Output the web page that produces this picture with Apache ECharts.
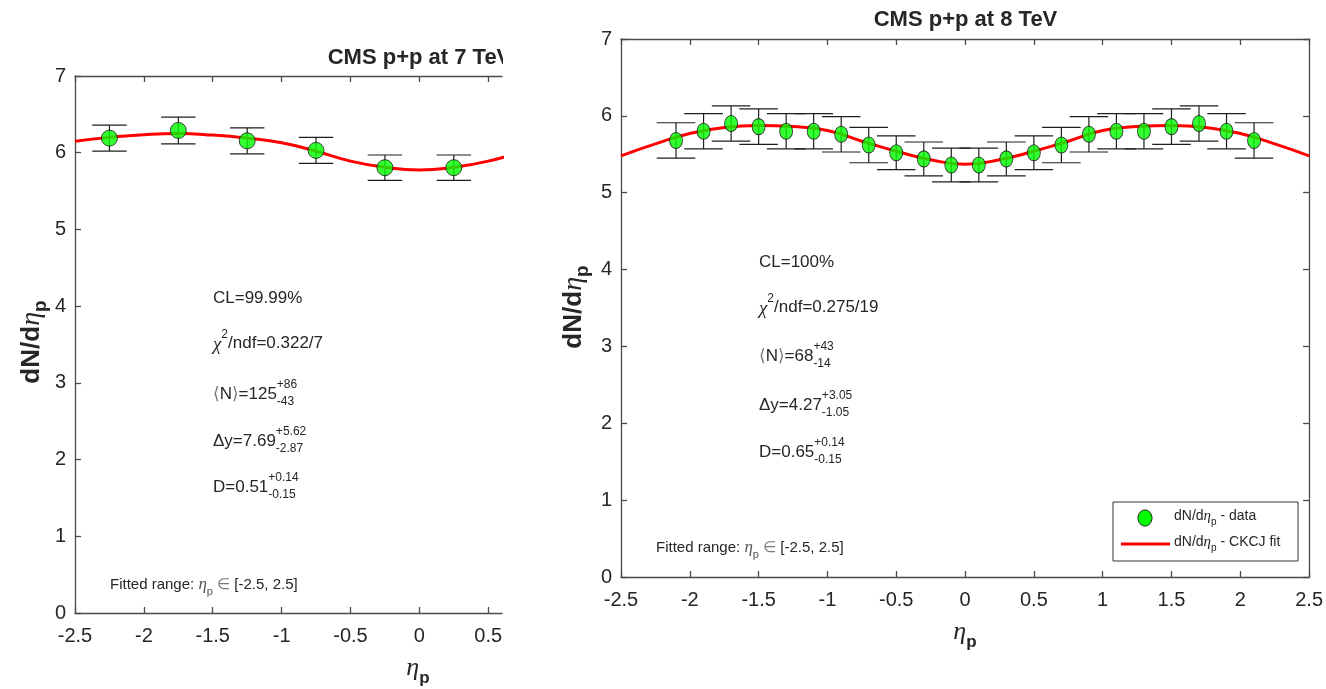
<!DOCTYPE html>
<html>
<head>
<meta charset="utf-8">
<script src="https://cdn.jsdelivr.net/npm/echarts@6/dist/echarts.min.js"></script>
<style>
  html, body { margin: 0; padding: 0; background: #fff; }
  #chart { width: 1326px; height: 689px; }
</style>
</head>
<body>
<div id="chart"></div>
<script>
// 7 TeV panel (left, cut off at eta ~0.6)
const eta7 = [-2.25, -1.75, -1.25, -0.75, -0.25, 0.25];
const dndeta7 = [6.19, 6.29, 6.155, 6.03, 5.805, 5.805];
const err7 = [0.17, 0.175, 0.17, 0.17, 0.165, 0.165];
const fitEta7 = [-2.5, -2.25, -2, -1.75, -1.5, -1.25, -1, -0.75, -0.5, -0.25, 0, 0.25, 0.5, 0.75];
const fitVal7 = [6.15, 6.20, 6.235, 6.25, 6.23, 6.19, 6.13, 6.02, 5.89, 5.81, 5.775, 5.81, 5.89, 6.02];

// 8 TeV panel (right)
const eta8 = [-2.1, -1.9, -1.7, -1.5, -1.3, -1.1, -0.9, -0.7, -0.5, -0.3, -0.1,
              0.1, 0.3, 0.5, 0.7, 0.9, 1.1, 1.3, 1.5, 1.7, 1.9, 2.1];
const dndeta8 = [5.68, 5.80, 5.90, 5.86, 5.80, 5.80, 5.76, 5.62, 5.52, 5.44, 5.36,
                 5.36, 5.44, 5.52, 5.62, 5.76, 5.80, 5.80, 5.86, 5.90, 5.80, 5.68];
const err8 = [0.23, 0.23, 0.23, 0.23, 0.23, 0.23, 0.23, 0.23, 0.22, 0.22, 0.22,
              0.22, 0.22, 0.22, 0.23, 0.23, 0.23, 0.23, 0.23, 0.23, 0.23, 0.23];
const fitEta8 = [-2.5, -2.25, -2, -1.75, -1.5, -1.25, -1, -0.75, -0.5, -0.25, 0,
                 0.25, 0.5, 0.75, 1, 1.25, 1.5, 1.75, 2, 2.25, 2.5];
const fitVal8 = [5.48, 5.635, 5.77, 5.85, 5.875, 5.86, 5.81, 5.67, 5.54, 5.43, 5.37,
                 5.43, 5.54, 5.67, 5.81, 5.86, 5.875, 5.85, 5.77, 5.635, 5.48];

const xTicks7 = [-2.5, -2, -1.5, -1, -0.5, 0, 0.5];
const xTicks8 = [-2.5, -2, -1.5, -1, -0.5, 0, 0.5, 1, 1.5, 2, 2.5];

const SANS = '"Liberation Sans", Arial, "DejaVu Sans", sans-serif';
const SERIF = '"Liberation Serif", "Times New Roman", "DejaVu Serif", serif';
const INK = '#262626';

// --- small tex-like text helper (sub/superscripts) ---
const mctx = document.createElement('canvas').getContext('2d');
const fontOf = p => (p.italic ? 'italic ' : '') + (p.bold ? 'bold ' : '') + p.size + 'px ' + (p.serif ? SERIF : SANS);
const textW = (p, t) => { mctx.font = fontOf(p); return mctx.measureText(t).width; };

function piece(x, y, t, p) {
  return {
    type: 'text', x: x, y: y, z: 100,
    style: { text: t, font: fontOf(p), fill: p.color || INK,
             align: 'left', verticalAlign: 'middle', textAlign: 'left', textVerticalAlign: 'middle' }
  };
}

// pieces: {t, size, bold, italic, serif, dy} or {sup, sub, size, supDy, subDy}
function tex(x, y, pieces, opt) {
  opt = opt || {};
  const kids = [];
  let cx = 0;
  pieces.forEach(p => {
    if (p.sup !== undefined || p.sub !== undefined) {
      const ps = { size: p.size, color: p.color };
      let w = 0;
      if (p.sup) { kids.push(piece(cx, p.supDy, p.sup, ps)); w = Math.max(w, textW(ps, p.sup)); }
      if (p.sub) { kids.push(piece(cx, p.subDy, p.sub, ps)); w = Math.max(w, textW(ps, p.sub)); }
      cx += w;
    } else {
      kids.push(piece(cx, p.dy || 0, p.t, p));
      cx += textW(p, p.t);
    }
  });
  if (opt.center) kids.forEach(k => { k.x -= cx / 2; });
  return { type: 'group', x: x, y: y, rotation: opt.rotation || 0, z: 100, children: kids };
}

const F = 17, S = 12;
function statBlock(x, ys, chi, n, dy, d) {
  return [
    tex(x, ys[0], [{ t: chi.cl, size: F }]),
    tex(x, ys[1], [{ t: 'χ', size: F + 2, italic: true, serif: true, dy: 2 },
                   { sup: '2', size: S, supDy: -8 },
                   { t: '/ndf=' + chi.ndf, size: F }]),
    tex(x, ys[2], [{ t: '⟨', size: F, color: '#777' }, { t: 'N', size: F },
                   { t: '⟩', size: F, color: '#777' }, { t: '=' + n[0], size: F },
                   { sup: n[1], sub: n[2], size: S, supDy: -9, subDy: 8 }]),
    tex(x, ys[3], [{ t: 'Δy=' + dy[0], size: F },
                   { sup: dy[1], sub: dy[2], size: S, supDy: -9, subDy: 8 }]),
    tex(x, ys[4], [{ t: 'D=' + d[0], size: F },
                   { sup: d[1], sub: d[2], size: S, supDy: -9, subDy: 8 }])
  ];
}
const fitted = (x, y) => tex(x, y, [{ t: 'Fitted range: ', size: 15 },
  { t: 'η', size: 17, italic: true, serif: true, color: '#555' },
  { sub: 'p', size: 11, subDy: 7, color: '#555' },
  { t: ' ∈ ', size: 15, color: '#777' }, { t: '[-2.5, 2.5]', size: 15 }]);

const yTitle = (x, y) => tex(x, y, [{ t: 'dN/d', size: 26, bold: true },
  { t: 'η', size: 28, italic: true, serif: true },
  { t: 'p', size: 19, bold: true, dy: 9 }], { center: true, rotation: Math.PI / 2 });
const xTitle = (x, y) => tex(x, y, [{ t: 'η', size: 26, italic: true, serif: true },
  { t: 'p', size: 17, bold: true, dy: 10 }], { center: true });

function errBars(cap) {
  return function (params, api) {
    const x = api.value(0), lo = api.value(1), hi = api.value(2);
    const t = api.coord([x, hi]), b = api.coord([x, lo]);
    const l = api.coord([x - cap, hi])[0], r = api.coord([x + cap, hi])[0];
    const st = { stroke: '#1e1e1e', lineWidth: 1.2 };
    return { type: 'group', children: [
      { type: 'line', shape: { x1: t[0], y1: t[1], x2: b[0], y2: b[1] }, style: st },
      { type: 'line', shape: { x1: l, y1: t[1], x2: r, y2: t[1] }, style: st },
      { type: 'line', shape: { x1: l, y1: b[1], x2: r, y2: b[1] }, style: st }
    ] };
  };
}

const axisLineStyle = { color: '#4a4a4a', width: 1.3 };
const labelStyle = { color: INK, fontSize: 20, fontFamily: SANS };
const fmt = v => String(+(+v).toFixed(1));

function xAxisPair(grid, min, max, ticks) {
  return [
    { type: 'value', gridIndex: grid, position: 'bottom', min: min, max: max, interval: 0.5,
      axisLine: { onZero: false, lineStyle: axisLineStyle },
      axisTick: { inside: true, length: 6, lineStyle: axisLineStyle, customValues: ticks },
      axisLabel: Object.assign({ margin: 13, formatter: fmt, customValues: ticks }, labelStyle),
      splitLine: { show: false } },
    { type: 'value', gridIndex: grid, position: 'top', min: min, max: max, interval: 0.5,
      axisLine: { onZero: false, lineStyle: axisLineStyle },
      axisTick: { inside: true, length: 6, lineStyle: axisLineStyle, customValues: ticks },
      axisLabel: { show: false }, splitLine: { show: false } }
  ];
}
function yAxisDef(grid, pos, labels) {
  return { type: 'value', gridIndex: grid, position: pos, min: 0, max: 7, interval: 1,
    axisLine: { show: true, onZero: false, lineStyle: axisLineStyle },
    axisTick: { show: true, inside: true, length: 6, lineStyle: axisLineStyle },
    axisLabel: Object.assign({ show: labels, margin: 9 }, labelStyle),
    splitLine: { show: false } };
}

const chart = echarts.init(document.getElementById('chart'));
chart.setOption({
  backgroundColor: '#fff',
  animation: false,
  grid: [
    { left: 75, top: 76, width: 427, height: 537 },
    { left: 621, top: 39, width: 689, height: 538 }
  ],
  xAxis: [].concat(xAxisPair(0, -2.5, 0.6, xTicks7), xAxisPair(1, -2.5, 2.5, xTicks8)),
  yAxis: [yAxisDef(0, 'left', true), yAxisDef(1, 'left', true), yAxisDef(1, 'right', false)],
  series: [
    { type: 'custom', xAxisIndex: 0, yAxisIndex: 0, z: 2, renderItem: errBars(0.125),
      encode: { x: 0, y: [1, 2] },
      data: eta7.map((x, i) => [x, dndeta7[i] - err7[i], dndeta7[i] + err7[i]]) },
    { type: 'line', name: 'fit7', xAxisIndex: 0, yAxisIndex: 0, z: 3, smooth: 0.5, showSymbol: false,
      clip: true, lineStyle: { color: '#ff0000', width: 3 },
      data: fitEta7.map((x, i) => [x, fitVal7[i]]) },
    { type: 'scatter', name: 'data7', xAxisIndex: 0, yAxisIndex: 0, z: 4, symbol: 'circle', symbolSize: 16,
      itemStyle: { color: '#00ff00', borderColor: '#1a1a1a', borderWidth: 1 },
      data: eta7.map((x, i) => [x, dndeta7[i]]) },

    { type: 'custom', xAxisIndex: 2, yAxisIndex: 1, z: 2, renderItem: errBars(0.14),
      encode: { x: 0, y: [1, 2] },
      data: eta8.map((x, i) => [x, dndeta8[i] - err8[i], dndeta8[i] + err8[i]]) },
    { type: 'line', name: 'fit8', xAxisIndex: 2, yAxisIndex: 1, z: 3, smooth: 0.5, showSymbol: false,
      clip: true, lineStyle: { color: '#ff0000', width: 3 },
      data: fitEta8.map((x, i) => [x, fitVal8[i]]) },
    { type: 'scatter', name: 'data8', xAxisIndex: 2, yAxisIndex: 1, z: 4, symbol: 'circle', symbolSize: [13, 16],
      itemStyle: { color: '#00ff00', borderColor: '#1a1a1a', borderWidth: 1 },
      data: eta8.map((x, i) => [x, dndeta8[i]]) }
  ],
  graphic: [].concat(
    [
      tex(419.5, 58, [{ t: 'CMS p+p at 7 TeV', size: 22, bold: true }], { center: true }),
      // left panel is cut at the frame edge
      { type: 'rect', z: 101, shape: { x: 503, y: 42, width: 40, height: 30 }, style: { fill: '#fff' } },
      tex(965.5, 20, [{ t: 'CMS p+p at 8 TeV', size: 22, bold: true }], { center: true }),
      yTitle(32, 342), yTitle(574, 307),
      xTitle(418, 668), xTitle(965, 632),
      fitted(110, 585), fitted(656, 548)
    ],
    statBlock(213, [298, 343, 394, 441, 487], { cl: 'CL=99.99%', ndf: '0.322/7' },
      ['125', '+86', '-43'], ['7.69', '+5.62', '-2.87'], ['0.51', '+0.14', '-0.15']),
    statBlock(759, [262, 307, 356, 405, 452], { cl: 'CL=100%', ndf: '0.275/19' },
      ['68', '+43', '-14'], ['4.27', '+3.05', '-1.05'], ['0.65', '+0.14', '-0.15']),
    [
      { type: 'rect', z: 90, shape: { x: 1113, y: 502, width: 185, height: 59 },
        style: { fill: '#fff', stroke: '#333', lineWidth: 1 } },
      { type: 'ellipse', z: 100, shape: { cx: 1145, cy: 518, rx: 7, ry: 8 },
        style: { fill: '#00ff00', stroke: '#1a1a1a', lineWidth: 1 } },
      { type: 'line', z: 100, shape: { x1: 1121, y1: 544, x2: 1170, y2: 544 },
        style: { stroke: '#ff0000', lineWidth: 3 } },
      tex(1174, 516, [{ t: 'dN/d', size: 14 }, { t: 'η', size: 15, italic: true, serif: true },
        { t: 'p', size: 10, dy: 6 }, { t: ' - data', size: 14 }]),
      tex(1174, 542, [{ t: 'dN/d', size: 14 }, { t: 'η', size: 15, italic: true, serif: true },
        { t: 'p', size: 10, dy: 6 }, { t: ' - CKCJ fit', size: 14 }])
    ]
  )
});
</script>
</body>
</html>
